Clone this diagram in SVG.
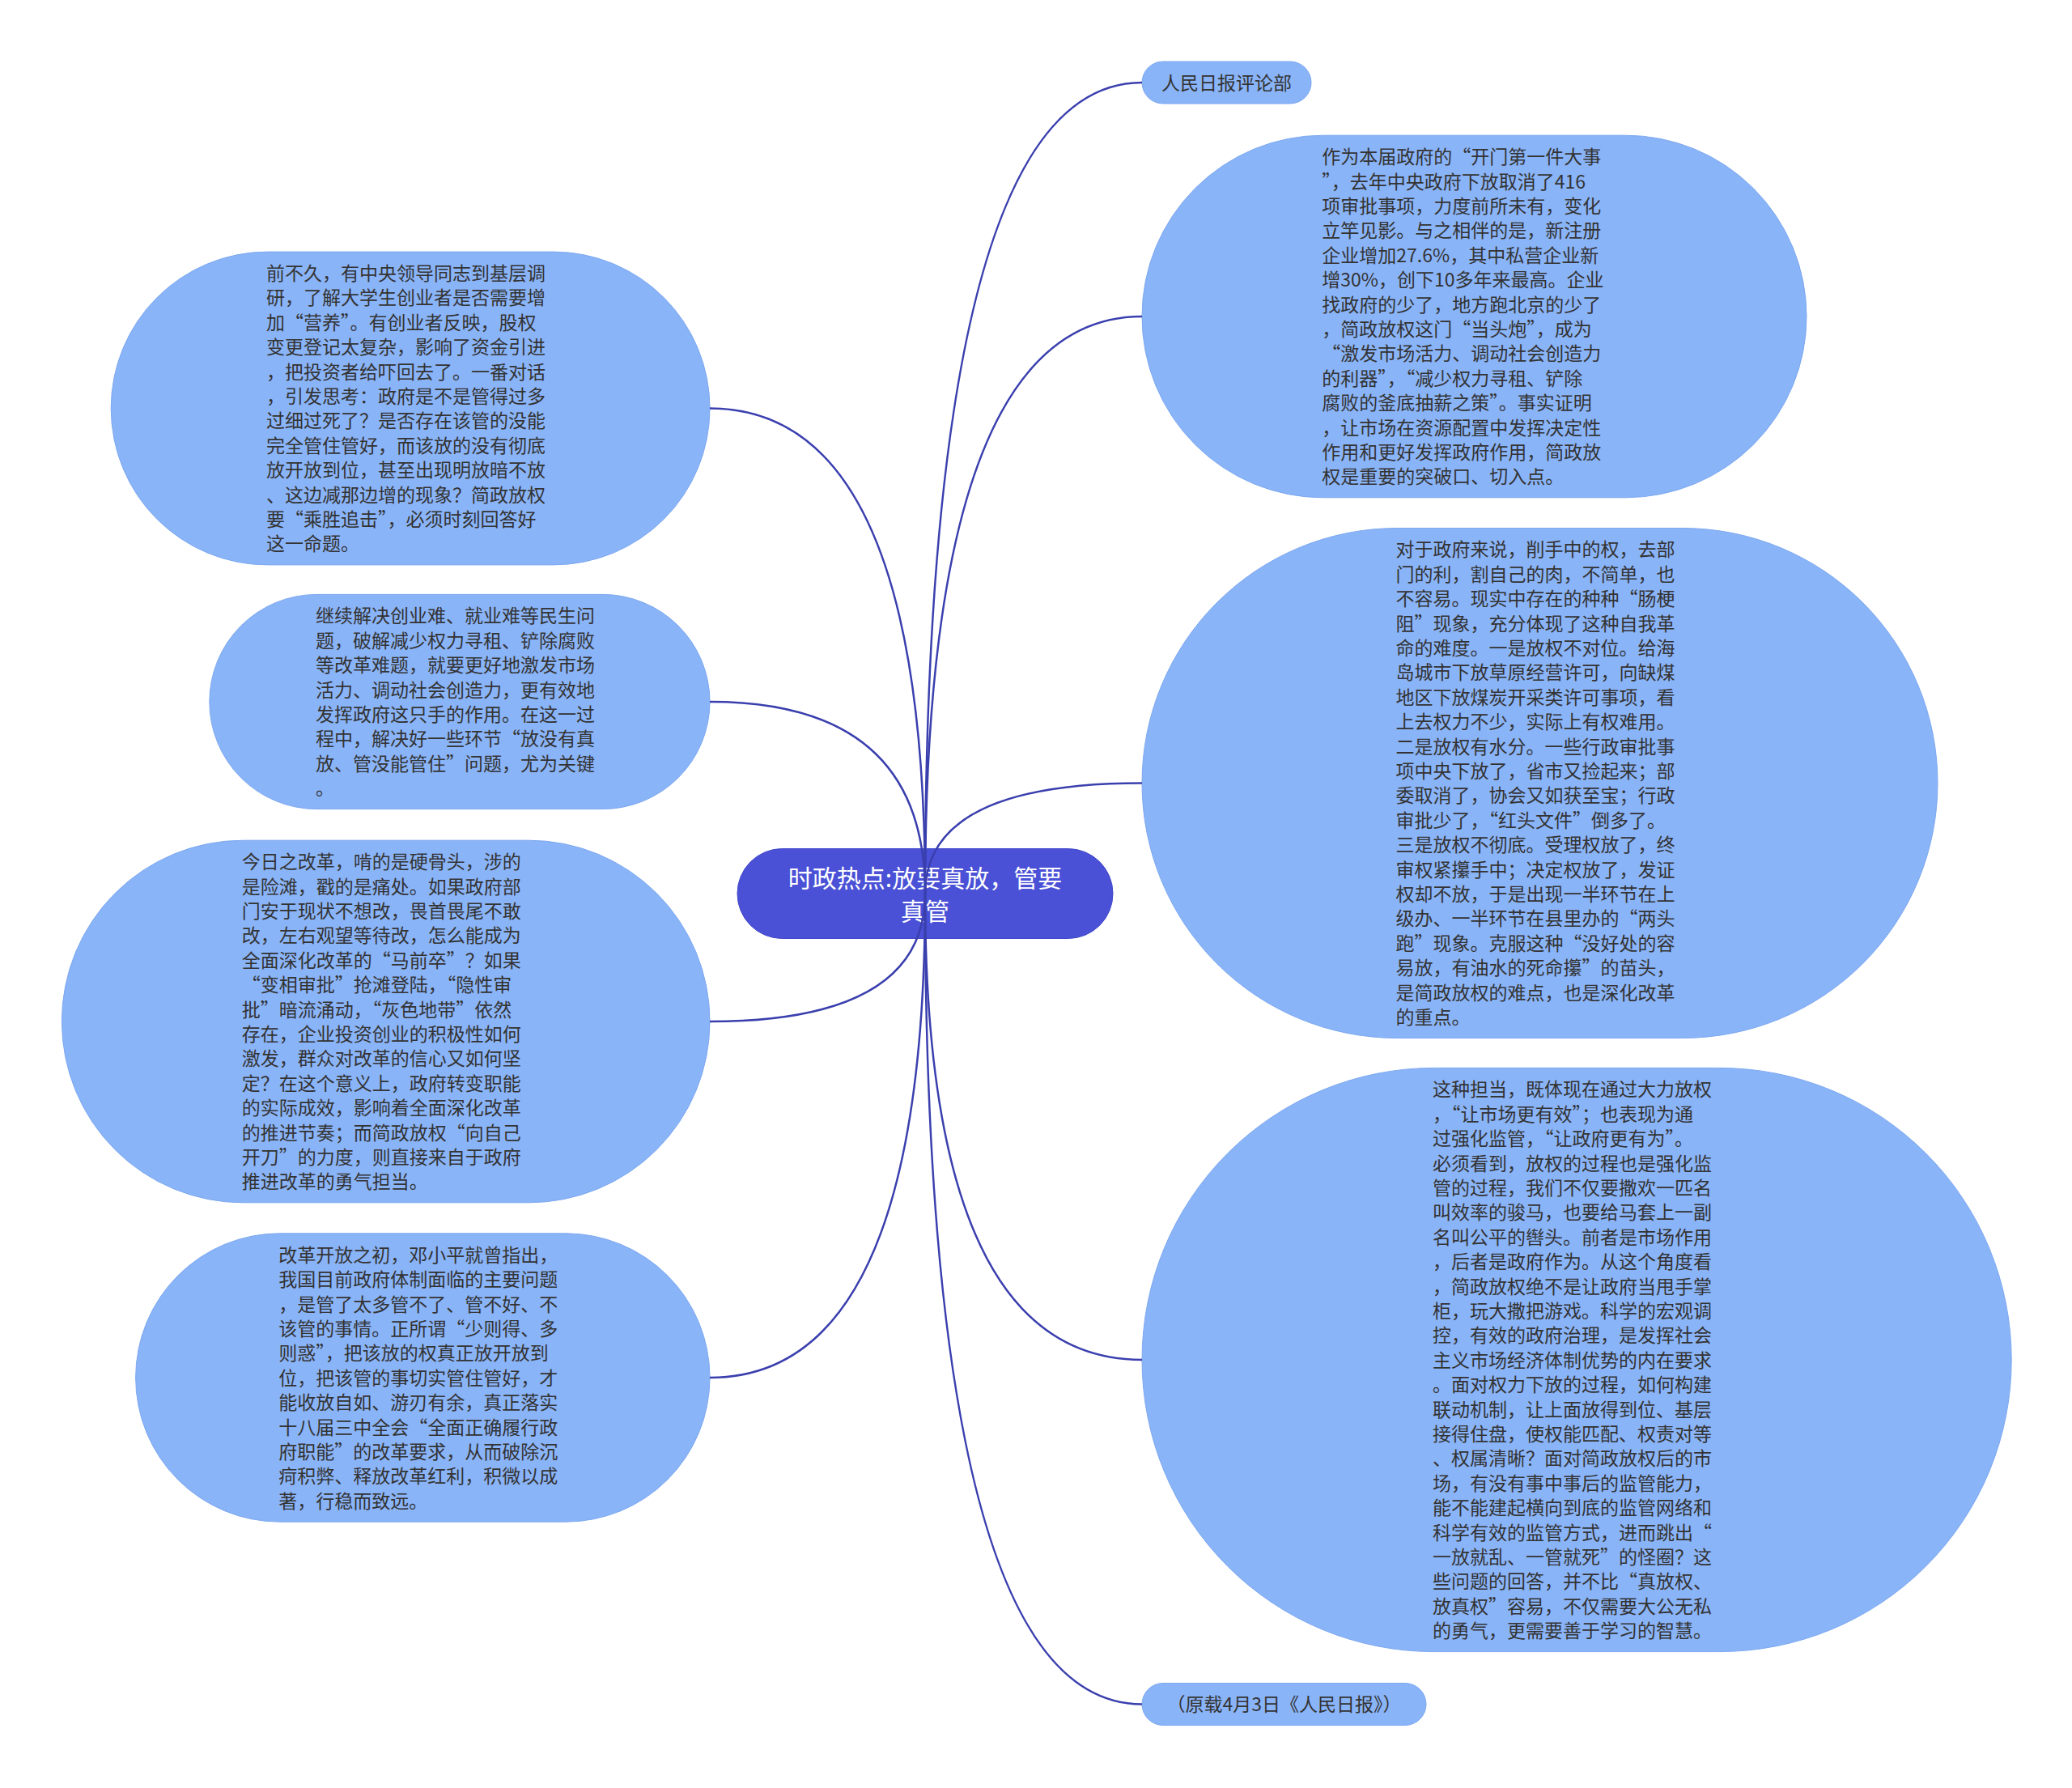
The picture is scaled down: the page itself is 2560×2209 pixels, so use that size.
<svg xmlns="http://www.w3.org/2000/svg" width="2560" height="2209" viewBox="0 0 2560 2209">
<style>
.bg{fill:#ffffff}
.node{fill:#8ab4f8;stroke:#7da8f0;stroke-width:1}
.root{fill:#4a51d6;stroke:#4248c8;stroke-width:1}
.t{font-family:"Noto Sans CJK SC","Noto Sans",sans-serif;font-size:23px;fill:#333333}
.rt{font-family:"Noto Sans CJK SC","Noto Sans",sans-serif;font-size:30px;fill:#ffffff;text-anchor:middle}
.c{text-anchor:middle}
.conn path{fill:none;stroke:#3a3fae;stroke-width:2.5}
</style>
<rect class="bg" x="0" y="0" width="2560" height="2209"/>

<g id="node-root">
<rect class="root" x="911" y="1048.5" width="464" height="111" rx="55.5" ry="55.5"/>
<text class="rt"><tspan x="1143" y="1096.4">时政热点:放要真放，管要</tspan><tspan x="1143" y="1137.4">真管</tspan></text>
</g>

<g id="node-r1">
<rect class="node" x="1411" y="76" width="209" height="52" rx="26" ry="26"/>
<text class="t c" x="1515.5" y="110.7">人民日报评论部</text>
</g>

<g id="node-r2">
<rect class="node" x="1411" y="167.2" width="821" height="447.6" rx="223.8" ry="223.8"/>
<text class="t" y="202.1">
<tspan x="1633.3" dy="0">作为本届政府的“开门第一件大事</tspan>
<tspan x="1633.3" dy="30.4">”，去年中央政府下放取消了416</tspan>
<tspan x="1633.3" dy="30.4">项审批事项，力度前所未有，变化</tspan>
<tspan x="1633.3" dy="30.4">立竿见影。与之相伴的是，新注册</tspan>
<tspan x="1633.3" dy="30.4">企业增加27.6%，其中私营企业新</tspan>
<tspan x="1633.3" dy="30.4">增30%，创下10多年来最高。企业</tspan>
<tspan x="1633.3" dy="30.4">找政府的少了，地方跑北京的少了</tspan>
<tspan x="1633.3" dy="30.4">，简政放权这门“当头炮”，成为</tspan>
<tspan x="1633.3" dy="30.4">“激发市场活力、调动社会创造力</tspan>
<tspan x="1633.3" dy="30.4">的利器”，“减少权力寻租、铲除</tspan>
<tspan x="1633.3" dy="30.4">腐败的釜底抽薪之策”。事实证明</tspan>
<tspan x="1633.3" dy="30.4">，让市场在资源配置中发挥决定性</tspan>
<tspan x="1633.3" dy="30.4">作用和更好发挥政府作用，简政放</tspan>
<tspan x="1633.3" dy="30.4">权是重要的突破口、切入点。</tspan>
</text>
</g>

<g id="node-r3">
<rect class="node" x="1411" y="652.5" width="983" height="630" rx="315" ry="315"/>
<text class="t" y="687.4">
<tspan x="1724.5" dy="0">对于政府来说，削手中的权，去部</tspan>
<tspan x="1724.5" dy="30.4">门的利，割自己的肉，不简单，也</tspan>
<tspan x="1724.5" dy="30.4">不容易。现实中存在的种种“肠梗</tspan>
<tspan x="1724.5" dy="30.4">阻”现象，充分体现了这种自我革</tspan>
<tspan x="1724.5" dy="30.4">命的难度。一是放权不对位。给海</tspan>
<tspan x="1724.5" dy="30.4">岛城市下放草原经营许可，向缺煤</tspan>
<tspan x="1724.5" dy="30.4">地区下放煤炭开采类许可事项，看</tspan>
<tspan x="1724.5" dy="30.4">上去权力不少，实际上有权难用。</tspan>
<tspan x="1724.5" dy="30.4">二是放权有水分。一些行政审批事</tspan>
<tspan x="1724.5" dy="30.4">项中央下放了，省市又捡起来；部</tspan>
<tspan x="1724.5" dy="30.4">委取消了，协会又如获至宝；行政</tspan>
<tspan x="1724.5" dy="30.4">审批少了，“红头文件”倒多了。</tspan>
<tspan x="1724.5" dy="30.4">三是放权不彻底。受理权放了，终</tspan>
<tspan x="1724.5" dy="30.4">审权紧攥手中；决定权放了，发证</tspan>
<tspan x="1724.5" dy="30.4">权却不放，于是出现一半环节在上</tspan>
<tspan x="1724.5" dy="30.4">级办、一半环节在县里办的“两头</tspan>
<tspan x="1724.5" dy="30.4">跑”现象。克服这种“没好处的容</tspan>
<tspan x="1724.5" dy="30.4">易放，有油水的死命攥”的苗头，</tspan>
<tspan x="1724.5" dy="30.4">是简政放权的难点，也是深化改革</tspan>
<tspan x="1724.5" dy="30.4">的重点。</tspan>
</text>
</g>

<g id="node-r4">
<rect class="node" x="1411" y="1319.4" width="1074.2" height="721.2" rx="360.6" ry="360.6"/>
<text class="t" y="1354.3">
<tspan x="1770.1" dy="0">这种担当，既体现在通过大力放权</tspan>
<tspan x="1770.1" dy="30.4">，“让市场更有效”；也表现为通</tspan>
<tspan x="1770.1" dy="30.4">过强化监管，“让政府更有为”。</tspan>
<tspan x="1770.1" dy="30.4">必须看到，放权的过程也是强化监</tspan>
<tspan x="1770.1" dy="30.4">管的过程，我们不仅要撒欢一匹名</tspan>
<tspan x="1770.1" dy="30.4">叫效率的骏马，也要给马套上一副</tspan>
<tspan x="1770.1" dy="30.4">名叫公平的辔头。前者是市场作用</tspan>
<tspan x="1770.1" dy="30.4">，后者是政府作为。从这个角度看</tspan>
<tspan x="1770.1" dy="30.4">，简政放权绝不是让政府当甩手掌</tspan>
<tspan x="1770.1" dy="30.4">柜，玩大撒把游戏。科学的宏观调</tspan>
<tspan x="1770.1" dy="30.4">控，有效的政府治理，是发挥社会</tspan>
<tspan x="1770.1" dy="30.4">主义市场经济体制优势的内在要求</tspan>
<tspan x="1770.1" dy="30.4">。面对权力下放的过程，如何构建</tspan>
<tspan x="1770.1" dy="30.4">联动机制，让上面放得到位、基层</tspan>
<tspan x="1770.1" dy="30.4">接得住盘，使权能匹配、权责对等</tspan>
<tspan x="1770.1" dy="30.4">、权属清晰？面对简政放权后的市</tspan>
<tspan x="1770.1" dy="30.4">场，有没有事中事后的监管能力，</tspan>
<tspan x="1770.1" dy="30.4">能不能建起横向到底的监管网络和</tspan>
<tspan x="1770.1" dy="30.4">科学有效的监管方式，进而跳出“</tspan>
<tspan x="1770.1" dy="30.4">一放就乱、一管就死”的怪圈？这</tspan>
<tspan x="1770.1" dy="30.4">些问题的回答，并不比“真放权、</tspan>
<tspan x="1770.1" dy="30.4">放真权”容易，不仅需要大公无私</tspan>
<tspan x="1770.1" dy="30.4">的勇气，更需要善于学习的智慧。</tspan>
</text>
</g>

<g id="node-r5">
<rect class="node" x="1411" y="2079.5" width="351" height="52" rx="26" ry="26"/>
<text class="t c" x="1586.5" y="2114.2">（原载4月3日《人民日报》）</text>
</g>

<g id="node-l1">
<rect class="node" x="137.2" y="311.1" width="739.8" height="386.8" rx="193.4" ry="193.4"/>
<text class="t" y="346">
<tspan x="329.1" dy="0">前不久，有中央领导同志到基层调</tspan>
<tspan x="329.1" dy="30.4">研，了解大学生创业者是否需要增</tspan>
<tspan x="329.1" dy="30.4">加“营养”。有创业者反映，股权</tspan>
<tspan x="329.1" dy="30.4">变更登记太复杂，影响了资金引进</tspan>
<tspan x="329.1" dy="30.4">，把投资者给吓回去了。一番对话</tspan>
<tspan x="329.1" dy="30.4">，引发思考：政府是不是管得过多</tspan>
<tspan x="329.1" dy="30.4">过细过死了？是否存在该管的没能</tspan>
<tspan x="329.1" dy="30.4">完全管住管好，而该放的没有彻底</tspan>
<tspan x="329.1" dy="30.4">放开放到位，甚至出现明放暗不放</tspan>
<tspan x="329.1" dy="30.4">、这边减那边增的现象？简政放权</tspan>
<tspan x="329.1" dy="30.4">要“乘胜追击”，必须时刻回答好</tspan>
<tspan x="329.1" dy="30.4">这一命题。</tspan>
</text>
</g>

<g id="node-l2">
<rect class="node" x="258.8" y="734.4" width="618.2" height="265.2" rx="132.6" ry="132.6"/>
<text class="t" y="769.3">
<tspan x="389.9" dy="0">继续解决创业难、就业难等民生问</tspan>
<tspan x="389.9" dy="30.4">题，破解减少权力寻租、铲除腐败</tspan>
<tspan x="389.9" dy="30.4">等改革难题，就要更好地激发市场</tspan>
<tspan x="389.9" dy="30.4">活力、调动社会创造力，更有效地</tspan>
<tspan x="389.9" dy="30.4">发挥政府这只手的作用。在这一过</tspan>
<tspan x="389.9" dy="30.4">程中，解决好一些环节“放没有真</tspan>
<tspan x="389.9" dy="30.4">放、管没能管住”问题，尤为关键</tspan>
<tspan x="389.9" dy="30.4">。</tspan>
</text>
</g>

<g id="node-l3">
<rect class="node" x="76.4" y="1038.2" width="800.6" height="447.6" rx="223.8" ry="223.8"/>
<text class="t" y="1073.1">
<tspan x="298.7" dy="0">今日之改革，啃的是硬骨头，涉的</tspan>
<tspan x="298.7" dy="30.4">是险滩，戳的是痛处。如果政府部</tspan>
<tspan x="298.7" dy="30.4">门安于现状不想改，畏首畏尾不敢</tspan>
<tspan x="298.7" dy="30.4">改，左右观望等待改，怎么能成为</tspan>
<tspan x="298.7" dy="30.4">全面深化改革的“马前卒”？如果</tspan>
<tspan x="298.7" dy="30.4">“变相审批”抢滩登陆，“隐性审</tspan>
<tspan x="298.7" dy="30.4">批”暗流涌动，“灰色地带”依然</tspan>
<tspan x="298.7" dy="30.4">存在，企业投资创业的积极性如何</tspan>
<tspan x="298.7" dy="30.4">激发，群众对改革的信心又如何坚</tspan>
<tspan x="298.7" dy="30.4">定？在这个意义上，政府转变职能</tspan>
<tspan x="298.7" dy="30.4">的实际成效，影响着全面深化改革</tspan>
<tspan x="298.7" dy="30.4">的推进节奏；而简政放权“向自己</tspan>
<tspan x="298.7" dy="30.4">开刀”的力度，则直接来自于政府</tspan>
<tspan x="298.7" dy="30.4">推进改革的勇气担当。</tspan>
</text>
</g>

<g id="node-l4">
<rect class="node" x="167.6" y="1523.8" width="709.4" height="356.4" rx="178.2" ry="178.2"/>
<text class="t" y="1558.7">
<tspan x="344.3" dy="0">改革开放之初，邓小平就曾指出，</tspan>
<tspan x="344.3" dy="30.4">我国目前政府体制面临的主要问题</tspan>
<tspan x="344.3" dy="30.4">，是管了太多管不了、管不好、不</tspan>
<tspan x="344.3" dy="30.4">该管的事情。正所谓“少则得、多</tspan>
<tspan x="344.3" dy="30.4">则惑”，把该放的权真正放开放到</tspan>
<tspan x="344.3" dy="30.4">位，把该管的事切实管住管好，才</tspan>
<tspan x="344.3" dy="30.4">能收放自如、游刃有余，真正落实</tspan>
<tspan x="344.3" dy="30.4">十八届三中全会“全面正确履行政</tspan>
<tspan x="344.3" dy="30.4">府职能”的改革要求，从而破除沉</tspan>
<tspan x="344.3" dy="30.4">疴积弊、释放改革红利，积微以成</tspan>
<tspan x="344.3" dy="30.4">著，行稳而致远。</tspan>
</text>
</g>

<g id="connectors" class="conn">
<path d="M1143,1104 Q1143,102 1411,102"/>
<path d="M1143,1104 Q1143,391 1411,391"/>
<path d="M1143,1104 Q1143,967.5 1411,967.5"/>
<path d="M1143,1104 Q1143,1680 1411,1680"/>
<path d="M1143,1104 Q1143,2105.5 1411,2105.5"/>
<path d="M1143,1104 Q1143,504.5 877,504.5"/>
<path d="M1143,1104 Q1143,867 877,867"/>
<path d="M1143,1104 Q1143,1262 877,1262"/>
<path d="M1143,1104 Q1143,1702 877,1702"/>
</g>
</svg>
